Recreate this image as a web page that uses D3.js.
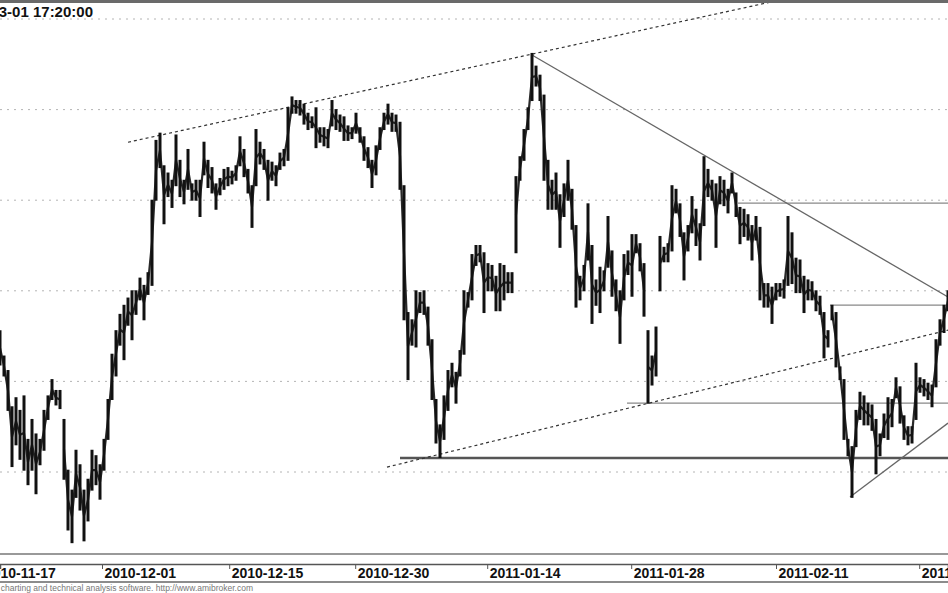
<!DOCTYPE html>
<html><head><meta charset="utf-8">
<script src="https://cdn.jsdelivr.net/npm/d3@7"></script>
<style>body{margin:0;background:#fff}svg{display:block}</style>
</head><body>
<svg id="c" width="948" height="593"></svg>
<script>
// Bar highs / lows (one bar per sampled interval)
const highs = [2678,2664,2656,2636,2641,2634,2642,2618,2629,2621,2618,2634,2642,2651,2645,2645,2629,2601,2590,2612,
2604,2590,2596,2612,2609,2604,2618,2640,2665,2678,2687,2692,2696,2700,2700,2707,2703,2710,2750,2783,
2787,2769,2765,2761,2786,2772,2761,2778,2759,2761,2761,2782,2772,2768,2759,2762,2767,2768,2766,2769,
2785,2778,2767,2758,2789,2782,2778,2772,2771,2769,2776,2778,2801,2807,2805,2805,2803,2798,2796,2801,
2790,2790,2789,2805,2800,2797,2796,2791,2790,2798,2790,2785,2779,2772,2780,2790,2798,2803,2798,2797,
2793,2758,2688,2684,2700,2699,2700,2691,2673,2640,2626,2642,2656,2660,2655,2667,2700,2699,2720,2725,
2725,2721,2715,2714,2708,2715,2714,2710,2710,2763,2774,2789,2801,2831,2824,2819,2808,2772,2761,2765,
2753,2759,2772,2756,2736,2708,2714,2748,2725,2706,2713,2711,2741,2722,2706,2700,2720,2722,2731,2731,
2726,2715,2678,2664,2680,2730,2724,2726,2758,2756,2748,2732,2736,2752,2745,2737,2774,2767,2761,2759,
2763,2761,2756,2765,2754,2746,2745,2742,2736,2741,2735,2704,2704,2702,2704,2704,2706,2741,2732,2718,
2717,2708,2706,2705,2700,2697,2688,2678,2692,2688,2658,2651,2618,2614,2634,2644,2642,2638,2637,2629,
2621,2632,2641,2640,2652,2647,2631,2625,2625,2660,2652,2651,2649,2648,2673,2684,2692,2700];
const lows = [2659,2653,2634,2603,2615,2607,2601,2593,2601,2588,2604,2612,2629,2640,2637,2635,2596,2568,2561,2586,
2579,2562,2573,2590,2593,2585,2601,2618,2640,2653,2670,2662,2681,2673,2687,2695,2684,2698,2703,2750,
2768,2737,2752,2746,2758,2752,2748,2756,2750,2750,2741,2764,2757,2754,2745,2753,2756,2758,2759,2761,
2769,2763,2754,2735,2758,2770,2767,2750,2761,2758,2767,2769,2772,2798,2798,2797,2792,2789,2790,2779,
2782,2780,2779,2791,2789,2788,2783,2783,2784,2787,2782,2772,2768,2757,2764,2778,2789,2792,2788,2788,
2756,2684,2651,2670,2669,2688,2687,2670,2640,2616,2608,2618,2634,2647,2638,2653,2665,2691,2695,2714,
2716,2688,2700,2700,2689,2689,2695,2699,2699,2721,2761,2772,2789,2805,2813,2805,2761,2745,2745,2745,
2724,2741,2750,2734,2691,2695,2700,2717,2682,2692,2688,2700,2713,2697,2689,2671,2695,2709,2697,2721,
2711,2686,2638,2648,2653,2700,2716,2716,2722,2743,2730,2706,2722,2732,2725,2717,2736,2752,2750,2724,
2748,2747,2743,2754,2741,2726,2730,2728,2717,2728,2695,2691,2691,2682,2695,2697,2696,2703,2704,2699,
2699,2688,2695,2695,2689,2687,2663,2669,2684,2658,2651,2618,2609,2586,2614,2629,2626,2626,2623,2599,
2609,2619,2618,2625,2641,2627,2618,2615,2616,2629,2644,2642,2640,2636,2647,2670,2677,2689];

// Date ticks (position in bars) and labels
const tickPos = [-4.4, 25.5, 57.3, 88.8, 121.8, 157.8, 194, 229.8];
const tickLabels = ["2010-11-17","2010-12-01","2010-12-15","2010-12-30","2011-01-14","2011-01-28","2011-02-11","2011-02-25"];
const gridLevels = [2600, 2650, 2700, 2750, 2800, 2850];

// Drawn studies: [barFrom, priceFrom, barTo, priceTo, kind]
const trendlines = [
  [32, 2782, 237, 2880.7, "dot"],
  [133, 2830.1, 237, 2696.6, "solid"],
  [96.75, 2602.7, 237, 2678.3, "dot"],
  [212.5, 2586.2, 237, 2627.0, "solid"]
];
const hLevels = [ // [barFrom, price, kind]
  [184.5, 2748.4, "thin"],
  [207.5, 2692.1, "thin"],
  [156.75, 2638.0, "thin"],
  [100, 2607.7, "thick"]
];
const title = "2011-03-01 17:20:00";
const footer = "AmiBroker - charting and technical analysis software. http://www.amibroker.com";

const svg = d3.select("#c");
const x = d3.scaleLinear().domain([0, highs.length - 1]).range([0, 948]);
const y = d3.scaleLinear().domain([2600, 2850]).range([472, 19]);

svg.append("defs").append("clipPath").attr("id","clip")
  .append("rect").attr("x",0).attr("y",3).attr("width",948).attr("height",550);

// grid
svg.append("g").selectAll("line").data(gridLevels).join("line")
  .attr("x1",0).attr("x2",948).attr("y1",d=>y(d)).attr("y2",d=>y(d))
  .attr("stroke","#b4b4b4").attr("stroke-width",1).attr("stroke-dasharray","2,5");

const plot = svg.append("g").attr("clip-path","url(#clip)");

// horizontal levels
plot.selectAll("line.h").data(hLevels).join("line").attr("class","h")
  .attr("x1",d=>x(d[0])).attr("x2",948).attr("y1",d=>y(d[1])).attr("y2",d=>y(d[1]))
  .attr("stroke",d=>d[2]==="thick"?"#555":"#888")
  .attr("stroke-width",d=>d[2]==="thick"?2.5:1.4);

// trendlines
plot.selectAll("line.t").data(trendlines).join("line").attr("class","t")
  .attr("x1",d=>x(d[0])).attr("y1",d=>y(d[1])).attr("x2",d=>x(d[2])).attr("y2",d=>y(d[3]))
  .attr("stroke",d=>d[4]==="dot"?"#333":"#666")
  .attr("stroke-width",d=>d[4]==="dot"?1.2:1.3)
  .attr("stroke-dasharray",d=>d[4]==="dot"?"3,3":null);

// connector between consecutive bars (through each bar's mid price), broken at price gaps
const pts = [];
highs.forEach((h,i)=>{
  if (i>0) {
    const gap = highs[i] < lows[i-1]-5 || lows[i] > highs[i-1]+5;
    if (gap) pts.push(null);
  }
  pts.push([i,(h+lows[i])/2]);
});
plot.append("path").datum(pts)
  .attr("d", d3.line().defined(d=>d!==null).x(d=>x(d[0])).y(d=>y(d[1])))
  .attr("fill","none").attr("stroke","#2a2a2a").attr("stroke-width",2.2).attr("stroke-linejoin","round");

// price bars
plot.selectAll("line.b").data(highs).join("line").attr("class","b")
  .attr("x1",(d,i)=>x(i)).attr("x2",(d,i)=>x(i))
  .attr("y1",d=>y(d)-0.5).attr("y2",(d,i)=>y(lows[i])+0.5)
  .attr("stroke","#111").attr("stroke-width",3);

// top border
svg.append("line").attr("x1",0).attr("x2",948).attr("y1",1.5).attr("y2",1.5)
  .attr("stroke","#6a6a6a").attr("stroke-width",3);

// title
svg.append("text").attr("x",93).attr("y",17).attr("text-anchor","end")
  .attr("font-family","Liberation Sans, Arial, sans-serif").attr("font-weight","bold")
  .attr("font-size",15).attr("fill","#111").text(title);

// bottom axis frame
svg.append("line").attr("x1",0).attr("x2",948).attr("y1",554).attr("y2",554).attr("stroke","#999").attr("stroke-width",2);
svg.append("rect").attr("x",0).attr("y",564).attr("width",948).attr("height",18).attr("fill","#fff");
const axis = d3.axisBottom(x).tickValues(tickPos).tickFormat((d,i)=>tickLabels[i]).tickSize(5).tickPadding(0);
const ax = svg.append("g").attr("transform","translate(0,564)").call(axis);
ax.select(".domain").attr("stroke","#555").attr("stroke-width",1.5);
ax.selectAll(".tick line").attr("stroke","#555");
ax.selectAll(".tick text").attr("text-anchor","start").attr("x",2).attr("dy",0).attr("y",13.5)
  .attr("font-family","Liberation Sans, Arial, sans-serif").attr("font-weight","bold")
  .attr("font-size",14).attr("fill","#111");
svg.append("line").attr("x1",0).attr("x2",948).attr("y1",582).attr("y2",582).attr("stroke","#666").attr("stroke-width",1.5);

// footer
svg.append("text").attr("x",253).attr("y",591).attr("text-anchor","end")
  .attr("font-family","Liberation Sans, Arial, sans-serif").attr("font-size",8.5).attr("fill","#777").text(footer);
</script>
</body></html>
